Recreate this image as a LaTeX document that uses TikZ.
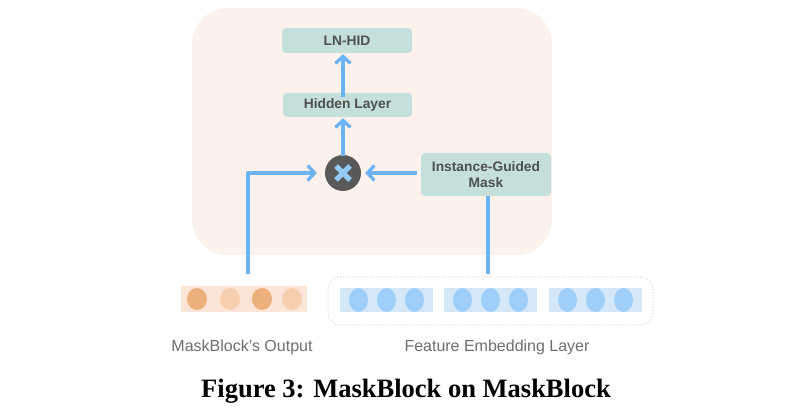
\documentclass[tikz,border=0pt]{standalone}
\usepackage{fontspec}
\setmainfont{Liberation Serif}
\setsansfont{Liberation Sans}
\usetikzlibrary{arrows.meta,shapes.geometric}
\definecolor{bgpink}{HTML}{FDF1EC}
\definecolor{tealbox}{HTML}{C5DFDD}
\definecolor{boxtext}{HTML}{505050}
\definecolor{arrowblue}{HTML}{6AB4F5}
\definecolor{circdark}{HTML}{595959}
\definecolor{crossblue}{HTML}{93CAF7}
\definecolor{orangerect}{HTML}{FCE5D6}
\definecolor{orangedark}{HTML}{EDB07C}
\definecolor{orangelight}{HTML}{F7CFAF}
\definecolor{bluerect}{HTML}{D5E8FA}
\definecolor{bluecirc}{HTML}{9FCFF8}
\definecolor{dashgray}{HTML}{CDD5DD}
\definecolor{labelgray}{HTML}{6E6E6E}
\tikzset{
  layerbox/.style={fill=tealbox, rounded corners=4pt, inner sep=0pt,
    font=\sffamily\bfseries\fontsize{13.8}{16.5}\selectfont, text=boxtext, align=center},
  tipstyle/.style={-{Straight Barb[length=7pt,width=15pt,line width=3.2pt]}},
  flow/.style={draw=arrowblue, line width=3.2pt, tipstyle},
  plainflow/.style={draw=arrowblue, line width=3.2pt},
  odot/.style={ellipse, minimum width=20pt, minimum height=22pt, inner sep=0pt},
  bdot/.style={ellipse, minimum width=19pt, minimum height=24pt, inner sep=0pt, fill=bluecirc},
  caplabel/.style={font=\sffamily\fontsize{16}{18}\selectfont, text=labelgray}
}
\begin{document}
\begin{tikzpicture}[x=1pt,y=-1pt]
\useasboundingbox (0,0) rectangle (806,419);
\fill[white] (0,0) rectangle (806,419);
% background panel
\fill[bgpink, rounded corners=36pt] (192,8) rectangle (552,255);
% boxes
\node[layerbox, minimum width=130pt, minimum height=25pt] (lnhid) at (347,40.5) {LN-HID};
\node[layerbox, minimum width=129pt, minimum height=24pt] (hidden) at (347.5,105) {Hidden Layer};
\node[layerbox, minimum width=130pt, minimum height=43pt] (mask) at (486,174.5) {Instance-Guided\\Mask};
% multiply circle
\node[circle, fill=circdark, minimum size=36pt, inner sep=0pt] (mul) at (343,173) {};
\draw[crossblue, line width=5pt] ([shift={(-7,-7)}]mul.center) -- ([shift={(7,7)}]mul.center)
  ([shift={(-7,7)}]mul.center) -- ([shift={(7,-7)}]mul.center);
% output block
\node[fill=orangerect, minimum width=126pt, minimum height=26pt, inner sep=0pt] (outblk) at (244,299) {};
\node[odot, fill=orangedark] (o1) at (197,299) {};
\node[odot, fill=orangelight] (o2) at (230,299) {};
\node[odot, fill=orangedark] (o3) at (262,299) {};
\node[odot, fill=orangelight] (o4) at (292,299) {};
% feature embedding layer
\node[draw=dashgray, dotted, line width=1pt, rounded corners=12pt, minimum width=325pt, minimum height=48pt, inner sep=0pt] (feb) at (490.5,301) {};
\foreach \i/\cx in {1/386.5,2/490.5,3/595.5}{
  \node[fill=bluerect, minimum width=93pt, minimum height=24pt, inner sep=0pt] (fr\i) at (\cx,300) {};
  \node[bdot] at (\cx-28,300) {};
  \node[bdot] at (\cx,300) {};
  \node[bdot] at (\cx+28,300) {};
}
% connectors
\coordinate (outtop) at (248,274);
\coordinate (febtop) at (488,274);
\coordinate (corner) at (248,173);
\draw[flow] ([yshift=-4pt]mul.north |- hidden.north) -- ([yshift=-1pt]mul.north |- lnhid.south);
\draw[flow] ([yshift=-1pt]mul.north) -- ([yshift=-1pt]mul.north |- hidden.south);
\draw[flow, line join=round] (outtop) -- (corner) -- ([xshift=-8pt]mul.west);
\draw[flow] ([xshift=-4pt]mul.east -| mask.west) -- ([xshift=4pt]mul.east);
\draw[plainflow] (febtop) -- (mask.south -| febtop);
% labels
\node[caplabel] (lblout) at (242,347) {MaskBlock's Output};
\node[caplabel] (lblfeb) at (497,347) {Feature Embedding Layer};
\node[font=\bfseries\fontsize{26.5}{29}\selectfont] (caption) at (406,391) {Figure 3: MaskBlock on MaskBlock};
\end{tikzpicture}
\end{document}
